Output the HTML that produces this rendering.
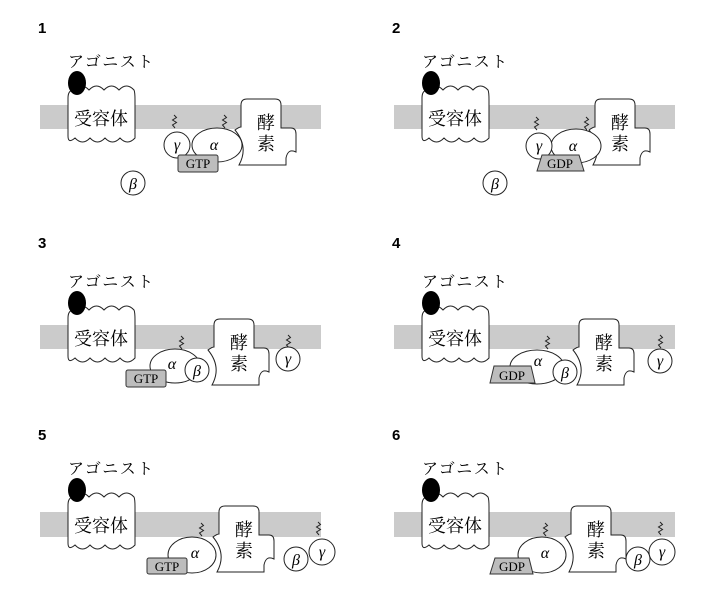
<!DOCTYPE html>
<html><head><meta charset="utf-8"><style>
html,body{margin:0;padding:0;background:#fff;}
svg{display:block;}
.n{font-family:"Liberation Sans",sans-serif;font-size:15px;font-weight:bold;}
.ag{font-family:"Liberation Serif","Noto Serif CJK SC",serif;font-size:16px;letter-spacing:1.5px;}
.rc{font-family:"Liberation Serif","Noto Serif CJK SC",serif;font-size:18px;}
.g{font-family:"Liberation Serif","DejaVu Serif",serif;font-style:italic;font-size:16px;}
.t{font-family:"Liberation Serif",serif;font-size:13px;}
</style></head><body>
<svg width="705" height="609" viewBox="0 0 705 609" xmlns="http://www.w3.org/2000/svg">
<defs>
<path id="rec" d="M68,98 Q68,90 74,90 q7.5,-8 15,0 q7.5,-8 15,0 q7.5,-8 15,0 q7.5,-8 15,0 Q135,92 135,100 V138 q-7.5,8 -15,0 q-7.5,8 -15,0 q-7.5,8 -15,0 q-7.5,8 -15,0 Q68,144 68,136 Z" fill="#fff" stroke="#222" stroke-width="1"/>
<path id="enz" d="M12,99 H40 Q46,99 46,105 V128 H56 Q61,128 61,134 V152 Q53,148 51,158 L51,165 H4 Q14,147 0,130 Q4,127 6,127 V105 Q6,99 12,99 Z" fill="#fff" stroke="#222" stroke-width="1"/>
<path id="sq" d="M0,-1 l2.5,2.5 -4,2.5 4,2.5 -4,2.5 2.5,3" fill="none" stroke="#222" stroke-width="1"/>
</defs>

<!-- Panel 1 -->
<g transform="translate(0,0)">
<text x="38" y="33" class="n">1</text>
<text x="68" y="67" class="ag">アゴニスト</text>
<rect x="40" y="105" width="281" height="24" fill="#cbcbcb"/>
<use href="#rec"/>
<ellipse cx="77" cy="83" rx="9" ry="12" fill="#000"/>
<text x="101" y="125" class="rc" text-anchor="middle">受容体</text>
<use href="#enz" transform="translate(235,0)"/>
<text x="266" y="129" class="rc" text-anchor="middle">酵</text>
<text x="266" y="150" class="rc" text-anchor="middle">素</text>
<use href="#sq" transform="translate(174,116)"/>
<use href="#sq" transform="translate(224,116)"/>
<ellipse cx="217" cy="145" rx="25" ry="17" fill="#fff" stroke="#222"/>
<circle cx="177" cy="145" r="13" fill="#fff" stroke="#222"/>
<text x="177" y="150" class="g" text-anchor="middle">γ</text>
<text x="214" y="150" class="g" text-anchor="middle">α</text>
<rect x="178" y="155" width="40" height="17" rx="2" fill="#bdbdbd" stroke="#333"/>
<text x="198" y="168" class="t" text-anchor="middle">GTP</text>
<circle cx="133" cy="183" r="12" fill="#fff" stroke="#222"/>
<text x="133" y="189" class="g" text-anchor="middle">β</text>
</g>

<!-- Panel 2 -->
<g transform="translate(354,0)">
<text x="38" y="33" class="n">2</text>
<text x="68" y="67" class="ag">アゴニスト</text>
<rect x="40" y="105" width="281" height="24" fill="#cbcbcb"/>
<use href="#rec"/>
<ellipse cx="77" cy="83" rx="9" ry="12" fill="#000"/>
<text x="101" y="125" class="rc" text-anchor="middle">受容体</text>
<use href="#enz" transform="translate(235,0)"/>
<text x="266" y="129" class="rc" text-anchor="middle">酵</text>
<text x="266" y="150" class="rc" text-anchor="middle">素</text>
<use href="#sq" transform="translate(182,118)"/>
<use href="#sq" transform="translate(232,118)"/>
<ellipse cx="222" cy="146" rx="25" ry="17" fill="#fff" stroke="#222"/>
<circle cx="185" cy="146" r="13" fill="#fff" stroke="#222"/>
<text x="185" y="151" class="g" text-anchor="middle">γ</text>
<text x="219" y="151" class="g" text-anchor="middle">α</text>
<path d="M188,155 H225 L230,171 H183 Z" fill="#bdbdbd" stroke="#333"/>
<text x="206" y="168" class="t" text-anchor="middle">GDP</text>
<circle cx="141" cy="183" r="12" fill="#fff" stroke="#222"/>
<text x="141" y="189" class="g" text-anchor="middle">β</text>
</g>

<!-- Panel 3 -->
<g transform="translate(0,220)">
<text x="38" y="28" class="n">3</text>
<text x="68" y="67" class="ag">アゴニスト</text>
<rect x="40" y="105" width="281" height="24" fill="#cbcbcb"/>
<use href="#rec"/>
<ellipse cx="77" cy="83" rx="9" ry="12" fill="#000"/>
<text x="101" y="125" class="rc" text-anchor="middle">受容体</text>
<use href="#enz" transform="translate(208,0)"/>
<text x="239" y="129" class="rc" text-anchor="middle">酵</text>
<text x="239" y="150" class="rc" text-anchor="middle">素</text>
<use href="#sq" transform="translate(181,117)"/>
<use href="#sq" transform="translate(288,116)"/>
<ellipse cx="175" cy="146" rx="25" ry="17" fill="#fff" stroke="#222"/>
<text x="172" y="149" class="g" text-anchor="middle">α</text>
<circle cx="197" cy="150" r="12" fill="#fff" stroke="#222"/>
<text x="197" y="156" class="g" text-anchor="middle">β</text>
<rect x="126" y="150" width="40" height="17" rx="2" fill="#bdbdbd" stroke="#333"/>
<text x="146" y="163" class="t" text-anchor="middle">GTP</text>
<circle cx="288" cy="139" r="12" fill="#fff" stroke="#222"/>
<text x="288" y="144" class="g" text-anchor="middle">γ</text>
</g>

<!-- Panel 4 -->
<g transform="translate(354,220)">
<text x="38" y="28" class="n">4</text>
<text x="68" y="67" class="ag">アゴニスト</text>
<rect x="40" y="105" width="281" height="24" fill="#cbcbcb"/>
<use href="#rec"/>
<ellipse cx="77" cy="83" rx="9" ry="12" fill="#000"/>
<text x="101" y="125" class="rc" text-anchor="middle">受容体</text>
<use href="#enz" transform="translate(219,0)"/>
<text x="250" y="129" class="rc" text-anchor="middle">酵</text>
<text x="250" y="150" class="rc" text-anchor="middle">素</text>
<use href="#sq" transform="translate(193,117)"/>
<use href="#sq" transform="translate(306,116)"/>
<ellipse cx="183" cy="147" rx="27" ry="17" fill="#fff" stroke="#222"/>
<text x="184" y="146" class="g" text-anchor="middle">α</text>
<circle cx="211" cy="152" r="12" fill="#fff" stroke="#222"/>
<text x="211" y="158" class="g" text-anchor="middle">β</text>
<path d="M140,146 H177 L181,163 H136 Z" fill="#bdbdbd" stroke="#333"/>
<text x="158" y="160" class="t" text-anchor="middle">GDP</text>
<circle cx="306" cy="141" r="12" fill="#fff" stroke="#222"/>
<text x="306" y="146" class="g" text-anchor="middle">γ</text>
</g>

<!-- Panel 5 -->
<g transform="translate(0,407)">
<text x="38" y="33" class="n">5</text>
<text x="68" y="67" class="ag">アゴニスト</text>
<rect x="40" y="105" width="281" height="25" fill="#cbcbcb"/>
<use href="#rec"/>
<ellipse cx="77" cy="83" rx="9" ry="12" fill="#000"/>
<text x="101" y="125" class="rc" text-anchor="middle">受容体</text>
<use href="#enz" transform="translate(213,0)"/>
<text x="244" y="129" class="rc" text-anchor="middle">酵</text>
<text x="244" y="150" class="rc" text-anchor="middle">素</text>
<use href="#sq" transform="translate(201,117)"/>
<use href="#sq" transform="translate(318,116)"/>
<ellipse cx="192" cy="148" rx="24" ry="18" fill="#fff" stroke="#222"/>
<text x="195" y="151" class="g" text-anchor="middle">α</text>
<rect x="147" y="151" width="40" height="16" rx="2" fill="#bdbdbd" stroke="#333"/>
<text x="167" y="164" class="t" text-anchor="middle">GTP</text>
<circle cx="296" cy="152" r="12" fill="#fff" stroke="#222"/>
<text x="296" y="158" class="g" text-anchor="middle">β</text>
<circle cx="322" cy="145" r="13" fill="#fff" stroke="#222"/>
<text x="322" y="150" class="g" text-anchor="middle">γ</text>
</g>

<!-- Panel 6 -->
<g transform="translate(354,407)">
<text x="38" y="33" class="n">6</text>
<text x="68" y="67" class="ag">アゴニスト</text>
<rect x="40" y="105" width="281" height="25" fill="#cbcbcb"/>
<use href="#rec"/>
<ellipse cx="77" cy="83" rx="9" ry="12" fill="#000"/>
<text x="101" y="125" class="rc" text-anchor="middle">受容体</text>
<use href="#enz" transform="translate(211,0)"/>
<text x="242" y="129" class="rc" text-anchor="middle">酵</text>
<text x="242" y="150" class="rc" text-anchor="middle">素</text>
<use href="#sq" transform="translate(191,117)"/>
<use href="#sq" transform="translate(306,116)"/>
<ellipse cx="188" cy="148" rx="24" ry="18" fill="#fff" stroke="#222"/>
<text x="191" y="151" class="g" text-anchor="middle">α</text>
<path d="M141,151 H175 L179,167 H136 Z" fill="#bdbdbd" stroke="#333"/>
<text x="158" y="164" class="t" text-anchor="middle">GDP</text>
<circle cx="284" cy="152" r="12" fill="#fff" stroke="#222"/>
<text x="284" y="158" class="g" text-anchor="middle">β</text>
<circle cx="308" cy="145" r="13" fill="#fff" stroke="#222"/>
<text x="308" y="150" class="g" text-anchor="middle">γ</text>
</g>
</svg>
</body></html>
